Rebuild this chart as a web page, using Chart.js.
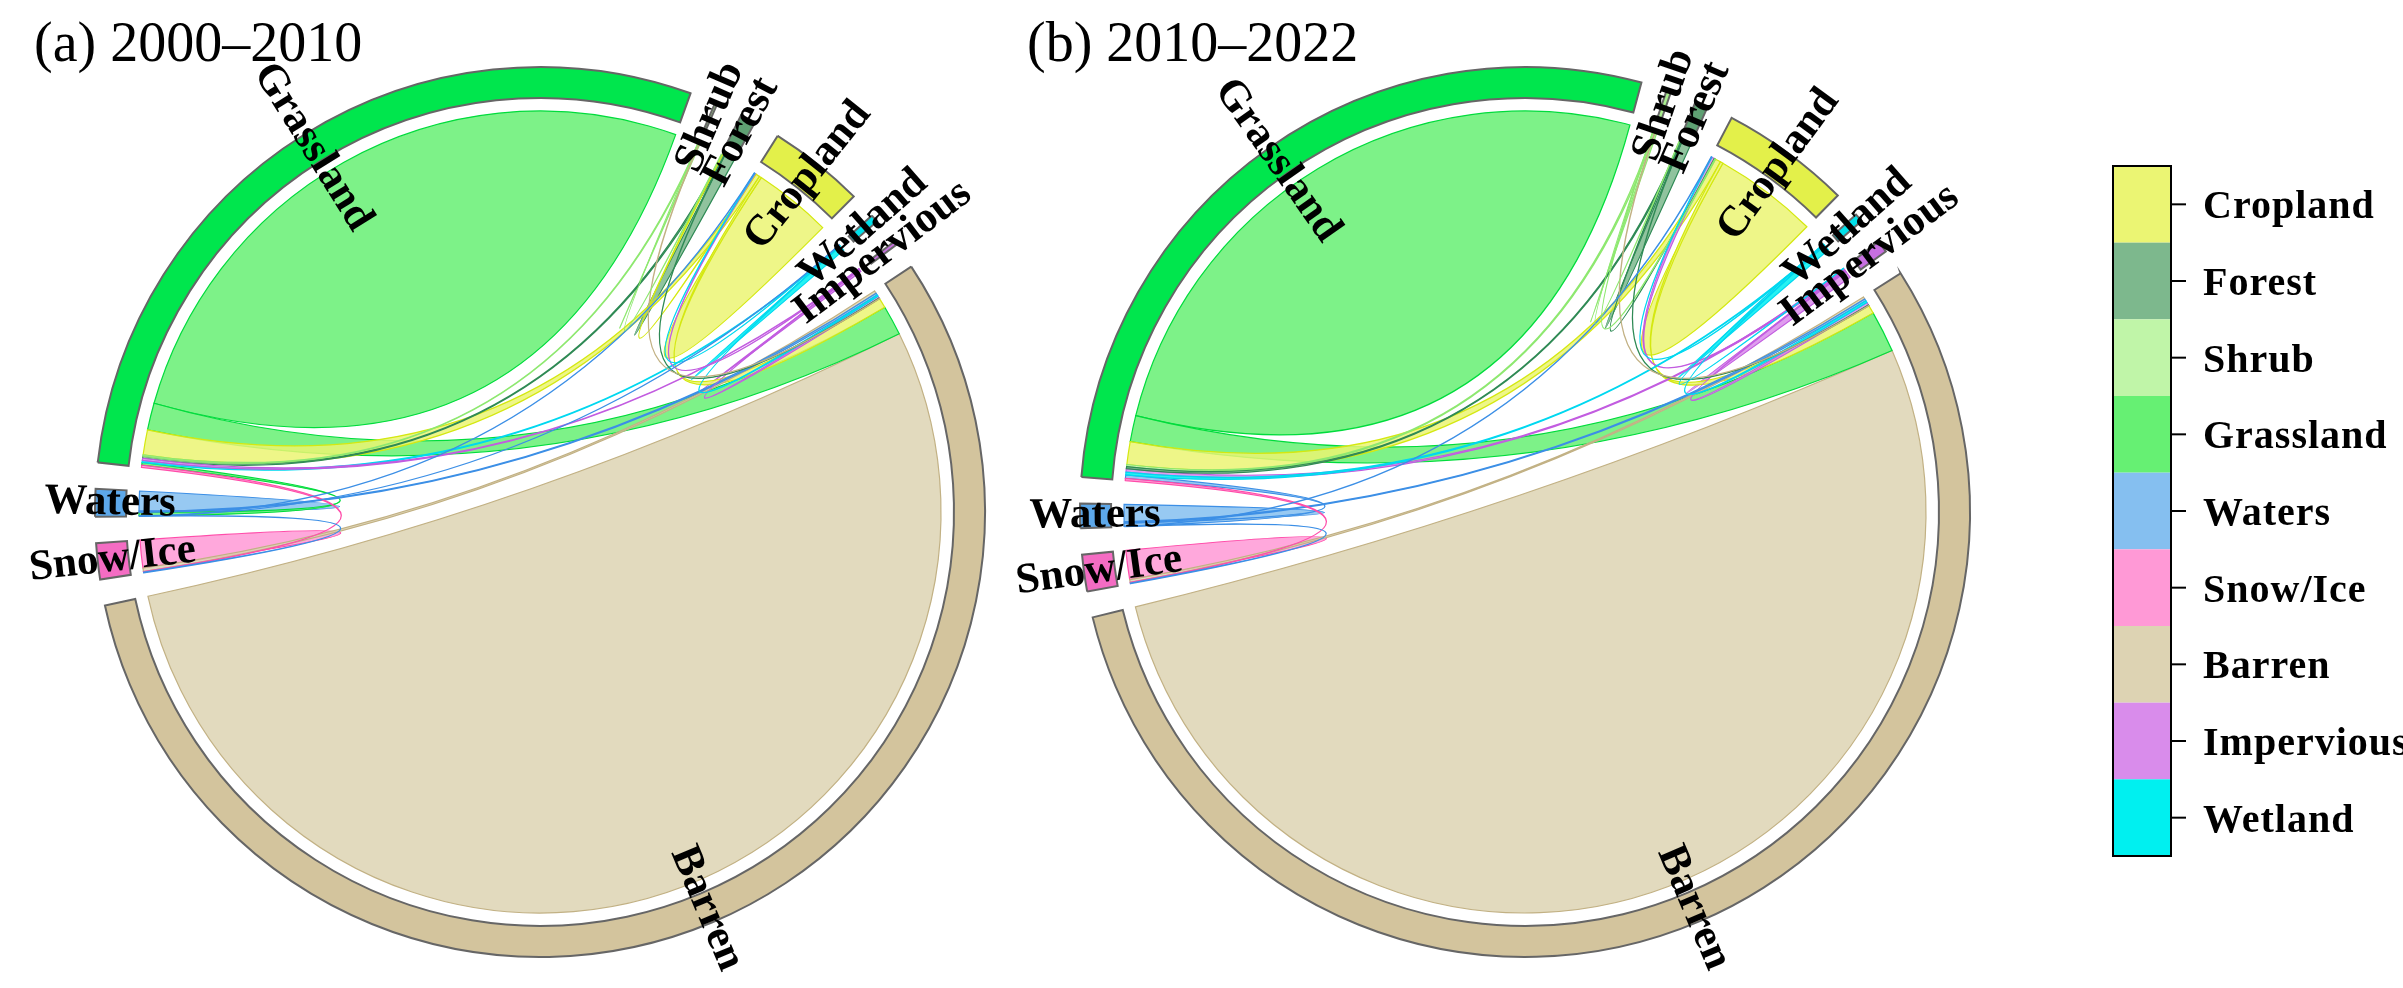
<!DOCTYPE html>
<html>
<head>
<meta charset="utf-8">
<script src="https://cdn.jsdelivr.net/npm/chart.js"></script>
<style>
    body { margin: 0; background: #fff; width: 2403px; height: 988px; position: relative; overflow: hidden; }
    canvas { position: absolute; top: 0; }
    #chordA { left: 0; }
    #chordB { left: 985px; }
</style>
</head>
<body>
<canvas id="chordA" width="1080" height="988"></canvas>
<canvas id="chordB" width="1418" height="988"></canvas>

<script>
    const classes = ["Cropland", "Forest", "Shrub", "Grassland", "Waters", "Snow/Ice", "Barren", "Impervious", "Wetland"]
    const fillColors = ["#EBF573", "#7DB88D", "#C0F5A8", "#66F073", "#85BFF0", "#FF99D6", "#DDD3B3", "#D98CEB", "#00F0F0"]
    const ringColors = ["#E3F04A", "#5FA173", "#A9EE8E", "#00E64D", "#5DA8EA", "#F46CC3", "#D3C49D", "#C76FE0", "#00E0EA"]
    const lineColors = ["#D4E810", "#2F8A55", "#8EE870", "#00DC3C", "#3C8FE6", "#FF4DAA", "#C2B184", "#C25CE0", "#00D8F0"]

    // order of the nodes round the circle (clockwise) and of the ribbons inside a node
    const ringOrder = ["Grassland", "Shrub", "Forest", "Cropland", "Wetland", "Impervious", "Barren", "Snow/Ice", "Waters"]
    const subOrder = ["Snow/Ice", "Waters", "Wetland", "Impervious", "Forest", "Shrub", "Cropland", "Grassland", "Barren"]

    // transfer matrices, rows = from class, columns = to class (same order as classes)
    const flows2000to2010 = [
        [11.3, 0.1, 0, 0.6, 0.05, 0, 0.3, 0.1, 0.05],
        [0.15, 1.5, 0.05, 0.25, 0, 0, 0.05, 0, 0],
        [0, 0, 0.1, 0.15, 0, 0, 0.05, 0, 0],
        [3.6, 0.3, 0.2, 93.7, 0.4, 0.3, 3.9, 0.3, 0.3],
        [0, 0, 0, 0.5, 2.85, 0.05, 0.2, 0, 0],
        [0, 0, 0, 0.1, 0.1, 4.0, 0.5, 0, 0],
        [1.4, 0.1, 0.05, 4.3, 0.3, 0.4, 193.55, 0.3, 0.2],
        [0.05, 0, 0, 0.05, 0, 0, 0.1, 0.3, 0],
        [0.05, 0, 0, 0.1, 0.05, 0, 0.05, 0, 0.75]
    ]
    const flows2010to2022 = [
        [15.1, 0.1, 0.1, 0.8, 0.05, 0, 0.4, 0.4, 0.05],
        [0.1, 1.3, 0.05, 0.2, 0, 0, 0.05, 0, 0],
        [0.05, 0, 0.25, 0.25, 0, 0, 0.05, 0, 0],
        [3.3, 0.3, 0.3, 91.3, 0.5, 0.3, 3.8, 0.5, 0.4],
        [0, 0, 0, 0.45, 2.5, 0.05, 0.2, 0, 0],
        [0, 0, 0, 0.1, 0.1, 4.2, 0.4, 0, 0],
        [1.2, 0.1, 0.05, 6.0, 0.3, 0.35, 190.1, 0.4, 0.3],
        [0.2, 0, 0, 0.2, 0, 0, 0.15, 1.0, 0.05],
        [0.05, 0, 0, 0.1, 0, 0, 0.1, 0.05, 0.8]
    ]

    const GAP_DEG = 3.4
    const FONT = "'Liberation Serif', 'Times New Roman', serif"

    const hexToRgba = (hex, a) => {
        const n = parseInt(hex.slice(1), 16)
        return `rgba(${(n >> 16) & 255},${(n >> 8) & 255},${n & 255},${a})`
    }

    const rowTotals = flows => flows.map(row => row.reduce((s, v) => s + v, 0))

    const buildRing = (flows) => {
        const totals = rowTotals(flows)
        const sum = totals.reduce((s, v) => s + v, 0)
        const gap = sum * GAP_DEG / (360 - ringOrder.length * GAP_DEG)
        const labels = [], data = [], bg = [], border = [], widths = []
        ringOrder.forEach(name => {
            const i = classes.indexOf(name)
            labels.push(name); data.push(totals[i]); bg.push(ringColors[i]); border.push("#666666"); widths.push(2)
            labels.push(""); data.push(gap); bg.push("rgba(0,0,0,0)"); border.push("rgba(0,0,0,0)"); widths.push(0)
        })
        return {
            labels: labels,
            datasets: [{ data: data, backgroundColor: bg, borderColor: border, borderWidth: widths, borderJoinStyle: "miter" }]
        }
    }

    const drawRibbons = (chart, flows) => {
        const ctx = chart.ctx
        const arcs = chart.getDatasetMeta(0).data
        const cx = arcs[0].x, cy = arcs[0].y
        const r = arcs[0].innerRadius - 13
        const totals = rowTotals(flows)

        // split every node arc into one piece per target class
        const sub = classes.map(() => [])
        ringOrder.forEach((name, p) => {
            const i = classes.indexOf(name)
            const arc = arcs[2 * p]
            const k = (arc.endAngle - arc.startAngle) / totals[i]
            let a = arc.startAngle
            const order = subOrder.map(n => classes.indexOf(n)).filter(j => j !== i).concat([i])
            order.forEach(j => {
                const w = flows[i][j] * k
                sub[i][j] = [a, a + w]
                a += w
            })
        })

        const selfs = [], pairs = []
        for (let i = 0; i < classes.length; i++) {
            for (let j = i; j < classes.length; j++) {
                if (flows[i][j] > 0 || flows[j][i] > 0) {
                    const item = { i: i, j: j, size: flows[i][j] + flows[j][i] }
                    if (i === j) selfs.push(item)
                    else pairs.push(item)
                }
            }
        }
        selfs.sort((a, b) => b.size - a.size)
        pairs.sort((a, b) => b.size - a.size)

        const pt = a => [cx + r * Math.cos(a), cy + r * Math.sin(a)]

        ctx.save()
        selfs.concat(pairs).forEach(({ i, j }) => {
            const [s0, s1] = sub[i][j]
            const [t0, t1] = sub[j][i]
            const c = i === j ? i : (flows[i][j] >= flows[j][i] ? j : i)
            ctx.beginPath()
            ctx.moveTo(...pt(s0))
            ctx.arc(cx, cy, r, s0, s1)
            if (i !== j) {
                ctx.quadraticCurveTo(cx, cy, ...pt(t0))
                ctx.arc(cx, cy, r, t0, t1)
            }
            ctx.quadraticCurveTo(cx, cy, ...pt(s0))
            ctx.closePath()
            ctx.fillStyle = hexToRgba(fillColors[c], 0.85)
            ctx.fill()
            ctx.strokeStyle = lineColors[c]
            ctx.lineWidth = 1.2
            ctx.stroke()
        })
        ctx.restore()
    }

    const drawNodeLabels = (chart) => {
        const ctx = chart.ctx
        const arcs = chart.getDatasetMeta(0).data
        ctx.save()
        ctx.font = `bold 43px ${FONT}`
        ctx.fillStyle = "#000"
        ctx.textAlign = "center"
        ctx.textBaseline = "middle"
        ringOrder.forEach((name, p) => {
            const arc = arcs[2 * p]
            const mid = (arc.startAngle + arc.endAngle) / 2
            const rr = arc.outerRadius - 15
            ctx.save()
            ctx.translate(arc.x + rr * Math.cos(mid), arc.y + rr * Math.sin(mid))
            ctx.rotate(Math.cos(mid) >= 0 ? mid : mid + Math.PI)
            ctx.fillText(name, 0, 0)
            ctx.restore()
        })
        ctx.restore()
    }

    const drawLegend = (chart, lg) => {
        const ctx = chart.ctx
        const h = lg.height / classes.length
        ctx.save()
        classes.forEach((name, i) => {
            ctx.fillStyle = fillColors[i]
            ctx.fillRect(lg.x, lg.y + i * h, lg.width, h)
        })
        ctx.strokeStyle = "#000"
        ctx.lineWidth = 2
        ctx.strokeRect(lg.x, lg.y, lg.width, lg.height)
        ctx.font = `bold 40px ${FONT}`
        ctx.letterSpacing = "1px"
        ctx.fillStyle = "#000"
        ctx.textBaseline = "alphabetic"
        classes.forEach((name, i) => {
            const yc = lg.y + (i + 0.5) * h
            ctx.beginPath()
            ctx.moveTo(lg.x + lg.width, yc)
            ctx.lineTo(lg.x + lg.width + 15, yc)
            ctx.stroke()
            ctx.fillText(name, lg.x + lg.width + 32, yc + 14)
        })
        ctx.restore()
    }

    const chordPlugin = {
        id: "chord",
        beforeDatasetsDraw(chart, args, opts) {
            drawRibbons(chart, opts.flows)
        },
        afterDatasetsDraw(chart, args, opts) {
            drawNodeLabels(chart)
            const ctx = chart.ctx
            ctx.save()
            ctx.font = `56px ${FONT}`
            ctx.fillStyle = "#000"
            ctx.textBaseline = "alphabetic"
            ctx.fillText(opts.title, opts.titleX, 61)
            ctx.restore()
            if (opts.legend) drawLegend(chart, opts.legend)
        }
    }

    const makeChord = (canvas, flows, title, extra) => {
        return new Chart(canvas, {
            type: "doughnut",
            data: buildRing(flows),
            plugins: [chordPlugin],
            options: {
                responsive: false,
                animation: false,
                devicePixelRatio: 1,
                rotation: extra.rotation,
                radius: 445,
                cutout: (414 / 445 * 100) + "%",
                layout: { padding: { top: 36, right: extra.padRight } },
                plugins: {
                    legend: { display: false },
                    tooltip: { enabled: false },
                    chord: { flows: flows, title: title, titleX: extra.titleX, legend: extra.legend }
                }
            }
        })
    }

    makeChord(chordA, flows2000to2010, "(a) 2000\u20132010", { rotation: 276.4, padRight: 0, titleX: 34 })
    makeChord(chordB, flows2010to2022, "(b) 2010\u20132022", {
        rotation: 274.5, padRight: 338, titleX: 42,
        legend: { x: 1128, y: 166, width: 58, height: 690 }
    })
</script>
</body>
</html>
